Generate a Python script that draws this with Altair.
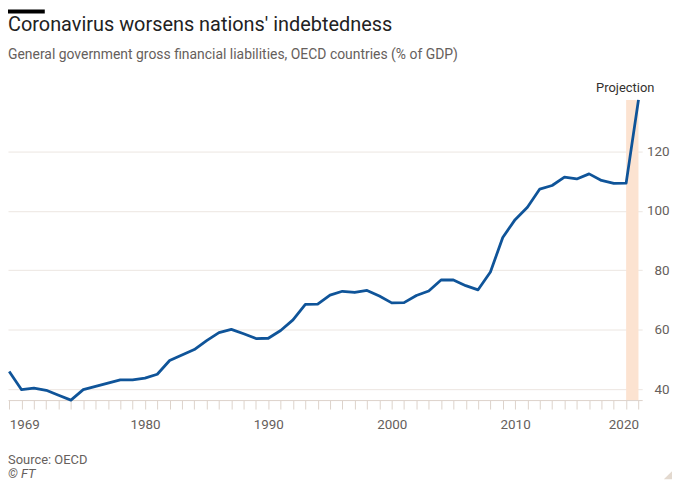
import altair as alt
import pandas as pd

# ---- data ----
years = list(range(1969, 2021))
debt = [45.9, 39.8, 40.3, 39.6, 37.9, 36.3, 39.8, 40.9, 42.0, 43.1,
        43.1, 43.7, 45.0, 49.6, 51.5, 53.3, 56.3, 59.0, 60.1, 58.6,
        57.0, 57.1, 59.7, 63.3, 68.5, 68.6, 71.6, 72.9, 72.5, 73.2,
        71.3, 69.0, 69.1, 71.5, 73.0, 76.7, 76.7, 74.8, 73.4, 79.4,
        91.0, 97.0, 101.2, 107.3, 108.5, 111.3, 110.7, 112.4, 110.2, 109.2,
        109.3, 137.3]
label_years = [1969, 1980, 1990, 2000, 2010, 2020]
y_ticks = [40, 60, 80, 100, 120]
proj_start = [2019]
proj_end = [2020]
proj_label = ["Projection"]

title_text = "Coronavirus worsens nations' indebtedness"
subtitle_text = "General government gross financial liabilities, OECD countries (% of GDP)"
source_text = "Source: OECD"
credit_text = "© FT"

df = pd.DataFrame({"year": years, "debt": debt})
band = pd.DataFrame({"start": proj_start, "end": proj_end, "label": proj_label})
one = pd.DataFrame({"k": [0]})

FONT = "Roboto"
W, H = 638, 302
GREY = "#66605c"
DARK = "#33302e"

xscale = alt.Scale(domain=[1968.9, 2020.3], nice=False, zero=False)
yscale = alt.Scale(domain=[min(debt), max(debt)], nice=False, zero=False)

label_list = ",".join(str(v) for v in label_years)
xaxis = alt.Axis(
    title=None, values=years, grid=False,
    labelExpr=f"indexof([{label_list}], datum.value) >= 0 ? toString(datum.value) : ''",
    labelOverlap=False, labelFlush=10,
    domainColor="#ddd3cb", domainWidth=1,
    tickColor="#ddd3cb", tickSize=9, tickWidth=1,
    labelColor=GREY, labelFont=FONT, labelFontSize=13.5, labelPadding=9,
)
yaxis = alt.Axis(
    title=None, orient="right", values=y_ticks, grid=True,
    gridColor="#ece6e1", gridWidth=1, domain=False, ticks=False, tickSize=0,
    labelAlign="right", labelPadding=27,
    labelColor=GREY, labelFont=FONT, labelFontSize=13.5,
)

band_layer = alt.Chart(band).mark_rect(color="#fce3d1").encode(
    x=alt.X("start:Q", scale=xscale, axis=xaxis),
    x2="end:Q",
)

line_layer = alt.Chart(df).mark_line(color="#0f5499", strokeWidth=2.8, strokeJoin="round").encode(
    x=alt.X("year:Q", scale=xscale, axis=xaxis),
    y=alt.Y("debt:Q", scale=yscale, axis=yaxis),
)

proj_text = alt.Chart(band).mark_text(
    font=FONT, fontSize=13, color=DARK, align="right", baseline="alphabetic", dx=16
).encode(
    x=alt.X("end:Q", scale=xscale, axis=xaxis),
    y=alt.value(-7.5),
    text="label:N",
)

def text_layer(txt, x, y, size, color, style="normal"):
    return alt.Chart(one).mark_text(
        text=txt, font=FONT, fontSize=size, color=color, align="left",
        baseline="alphabetic", fontStyle=style,
    ).encode(x=alt.value(x), y=alt.value(y))

title_layer = text_layer(title_text, 0, -69, 20, "#222222")
subtitle_layer = text_layer(subtitle_text, 0, -40.7, 14, GREY)
source_layer = text_layer(source_text, 0, 366, 13, GREY)
credit_layer = text_layer(credit_text, 0, 380.5, 13, GREY, "italic")

bar_layer = alt.Chart(one).mark_rule(color="#000000", strokeWidth=4, strokeCap="butt").encode(
    x=alt.value(0), x2=alt.value(37), y=alt.value(-89)
)

corner_layer = alt.Chart(one).mark_point(
    shape="M1,-1L1,1L-1,1Z", filled=True, size=72, color="#e3d9cf", opacity=1
).encode(x=alt.value(664), y=alt.value(377.5))

chart = alt.layer(
    band_layer, line_layer, proj_text, title_layer, subtitle_layer,
    source_layer, credit_layer, bar_layer, corner_layer,
).properties(
    width=W, height=H,
    autosize=alt.AutoSizeParams(type="none"),
    padding={"left": 0, "top": 91, "right": 30, "bottom": 85},
    background="#ffffff",
).configure_view(stroke=None)

chart.save("out.html", embed_options={"renderer": "svg", "actions": False})
